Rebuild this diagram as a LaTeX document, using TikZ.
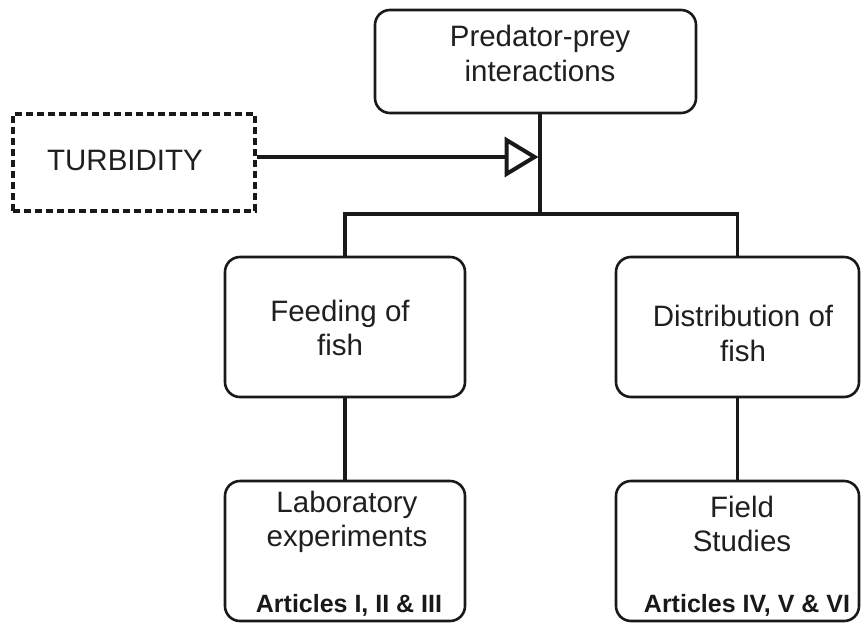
\documentclass[tikz,border=0pt]{standalone}
\usepackage{fontspec}
\setmainfont{Liberation Sans}
\usetikzlibrary{arrows.meta}
\tikzset{
  box/.style={draw=black!90, line width=2.6pt, rounded corners=15pt, inner sep=0pt},
  dbox/.style={draw=black!90, line width=3.2pt, dash pattern=on 7pt off 4pt, inner sep=0pt},
  txt/.style={inner sep=0pt, align=center, text=black!88, font=\fontsize{29.5}{34.5}\selectfont},
  btxt/.style={inner sep=0pt, text=black!90, font=\fontsize{25}{29}\selectfont\bfseries},
  conn/.style={draw=black!90, line width=3.3pt},
}
\begin{document}
\begin{tikzpicture}[x=1pt,y=-1pt]
\useasboundingbox (0,0) rectangle (861,623);
% boxes
\node[box, minimum width=321pt, minimum height=103pt] (top) at (535.5,61.5) {};
\node[dbox, minimum width=242pt, minimum height=97pt] (turb) at (134,162.5) {};
\node[box, minimum width=240pt, minimum height=140pt] (feed) at (345,327) {};
\node[box, minimum width=243pt, minimum height=140pt] (dist) at (737.5,327) {};
\node[box, minimum width=240pt, minimum height=140pt] (lab) at (345,551) {};
\node[box, minimum width=243pt, minimum height=140pt] (field) at (737.5,551) {};
% texts
\node[txt] (ttop) at (540,53.7) {Predator-prey\\interactions};
\node[txt, anchor=base] (tturb) at (125,170) {TURBIDITY};
\node[txt] (tfeed) at (340,328) {Feeding of\\fish};
\node[txt] (tdist) at (743,333.7) {Distribution of\\fish};
\node[txt] (tlab) at (347,522) {Laboratory\\experiments};
\node[txt] (tfield) at (742,524) {Field\\Studies};
\node[btxt, anchor=base] (alab) at (349,612) {Articles I, II \& III};
\node[btxt, anchor=base] (afield) at (747,612) {Articles IV, V \& VI};
% connectors
\coordinate (j) at (540,214);
\coordinate (aend) at (538.5,157);
\draw[conn] (top.south -| j) -- (j);
\draw[conn] (feed.north) |- (j) -| (dist.north);
\draw[conn] (feed.south) -- (lab.north);
\draw[conn] (dist.south) -- (field.north);
\draw[draw=black!90, line width=4pt, -{Triangle[open, length=34pt, width=40pt, line width=4pt]}] (turb.east |- aend) -- (aend);
\end{tikzpicture}
\end{document}
